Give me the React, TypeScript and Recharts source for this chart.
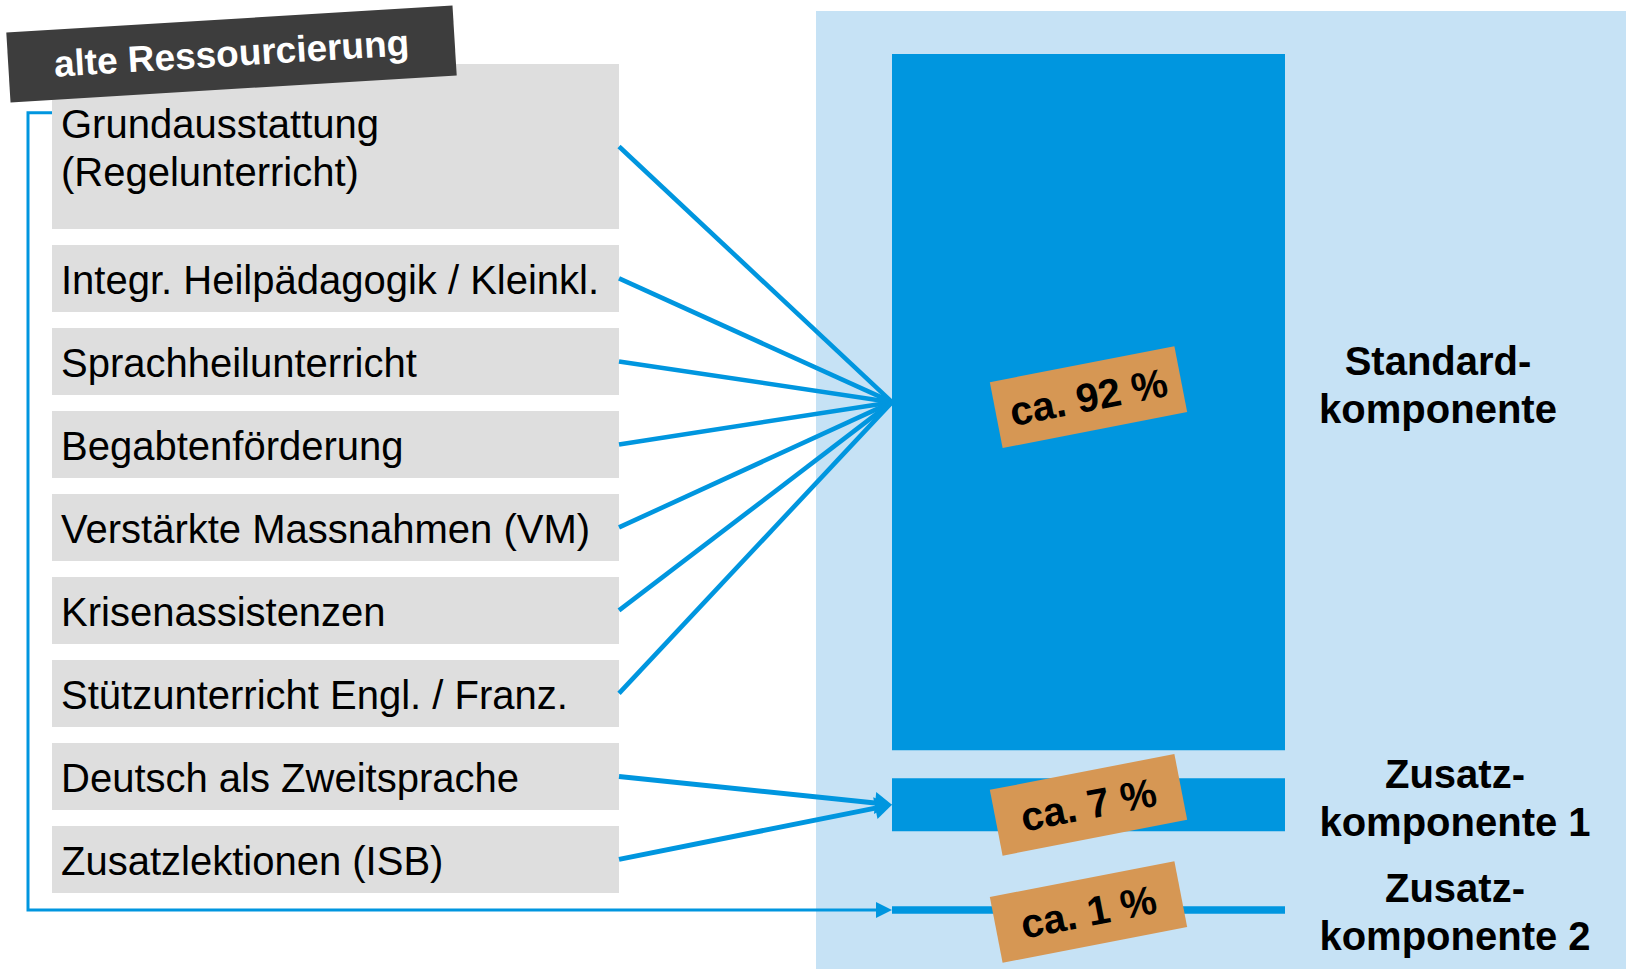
import React from 'react';
import { BarChart, Bar, XAxis, YAxis, LabelList } from 'recharts';

// ---------- data ----------
const sourceLabels: string[] = [
  'Grundausstattung\n(Regelunterricht)',
  'Integr. Heilpädagogik / Kleinkl.',
  'Sprachheilunterricht',
  'Begabtenförderung',
  'Verstärkte Massnahmen (VM)',
  'Krisenassistenzen',
  'Stützunterricht Engl. / Franz.',
  'Deutsch als Zweitsprache',
  'Zusatzlektionen (ISB)',
];
const sourceTargets: number[] = [0, 0, 0, 0, 0, 0, 0, 1, 1];
const bracketSources: number[] = [0];
const bracketTarget = 2;
const componentNames: string[] = ['Standard-\nkomponente', 'Zusatz-\nkomponente 1', 'Zusatz-\nkomponente 2'];
const componentShares: number[] = [92, 7, 1];
const shareLabels: string[] = ['ca. 92 %', 'ca. 7 %', 'ca. 1 %'];
const headerLabel = 'alte Ressourcierung';

// ---------- layout / style ----------
const W = 1626;
const H = 969;
const FONT = '"Liberation Sans", Arial, Helvetica, sans-serif';
const BLUE = '#0096DF';
const PANEL = '#C6E2F5';
const GREY = '#DEDEDE';
const DARK = '#3D3D3D';
const TAG = '#D69754';
const GAPS = [3.7, 9.9]; // spacing between stacked components (value units)
const LABEL_DX = [153, 170, 170];
const LABEL_DY = [-27, -17, -8];
const TAG_DY = [-5, 0, 2];
const BOX_X = 52;
const BOX_W = 567;
const boxTop = (i: number) => (i === 0 ? 64 : 244.7 + (i - 1) * 83);
const boxH = (i: number) => (i === 0 ? 165 : 67.4);
const boxCy = (i: number) => boxTop(i) + boxH(i) / 2;

const row = {
  name: 'Ressourcierung',
  c2: componentShares[2],
  g2: GAPS[1],
  c1: componentShares[1],
  g1: GAPS[0],
  c0: componentShares[0],
};
const total = row.c2 + row.g2 + row.c1 + row.g1 + row.c0;
const data = [row];

function arrowHead(x1: number, y1: number, x2: number, y2: number, L: number, Wd: number) {
  const dx = x2 - x1;
  const dy = y2 - y1;
  const len = Math.sqrt(dx * dx + dy * dy);
  const ux = dx / len;
  const uy = dy / len;
  const bx = x2 - ux * L;
  const by = y2 - uy * L;
  const nx = -uy;
  const ny = ux;
  return {
    base: [bx, by],
    points: `${x2},${y2} ${bx + nx * Wd},${by + ny * Wd} ${bx - nx * Wd},${by - ny * Wd}`,
  };
}

const makeContent = (ci: number) => (props: any) => {
  const vb = props.viewBox || {};
  const x = Number(vb.x ?? props.x);
  const y = Number(vb.y ?? props.y);
  const w = Number(vb.width ?? props.width);
  const h = Number(vb.height ?? props.height);
  const top = Math.min(y, y + h);
  const hh = Math.abs(h);
  const cx = x + w / 2;
  const cy = top + hh / 2;
  const lines = componentNames[ci].split('\n');

  const connectors: React.ReactNode[] = [];
  sourceTargets.forEach((t, si) => {
    if (t !== ci) return;
    const sx = BOX_X + BOX_W;
    const sy = boxCy(si);
    if (ci === 0) {
      connectors.push(
        <line key={`l${si}`} x1={sx} y1={sy} x2={x} y2={cy} stroke={BLUE} strokeWidth={4.6} />
      );
    } else {
      const a = arrowHead(sx, sy, x, cy, 17, 11);
      connectors.push(
        <g key={`l${si}`}>
          <line x1={sx} y1={sy} x2={a.base[0]} y2={a.base[1]} stroke={BLUE} strokeWidth={5} />
          <polygon points={a.points} fill={BLUE} />
        </g>
      );
    }
  });
  if (ci === bracketTarget) {
    bracketSources.forEach((si) => {
      const startY = boxTop(si) + 48.7;
      const bx = 28;
      const a = arrowHead(bx, cy, x, cy, 16, 8);
      connectors.push(
        <g key={`b${si}`}>
          <path
            d={`M ${BOX_X} ${startY} H ${bx} V ${cy} H ${a.base[0]}`}
            fill="none"
            stroke={BLUE}
            strokeWidth={3}
          />
          <polygon points={a.points} fill={BLUE} />
        </g>
      );
    });
  }

  return (
    <g>
      {connectors}
      <g transform={`translate(${cx},${cy + TAG_DY[ci]}) rotate(-11)`}>
        <rect x={-94} y={-33.5} width={188} height={67} fill={TAG} />
        <text x={0} y={14} textAnchor="middle" fontFamily={FONT} fontWeight="bold" fontSize={40.5} fill="#000">
          {shareLabels[ci]}
        </text>
      </g>
      <text
        x={x + w + LABEL_DX[ci]}
        y={cy + LABEL_DY[ci]}
        textAnchor="middle"
        fontFamily={FONT}
        fontWeight="bold"
        fontSize={40}
        fill="#000"
      >
        {lines.map((ln, k) => (
          <tspan key={k} x={x + w + LABEL_DX[ci]} y={cy + LABEL_DY[ci] + k * 48}>
            {ln}
          </tspan>
        ))}
      </text>
    </g>
  );
};

export default function App() {
  return (
    <div style={{ position: 'absolute', left: 0, top: 0, width: W, height: H, background: '#fff', overflow: 'hidden' }}>
      <div style={{ position: 'absolute', left: 816, top: 11, width: W - 816, height: H - 11, background: PANEL }} />
      {sourceLabels.map((lbl, i) => (
        <div
          key={i}
          style={{
            position: 'absolute',
            left: BOX_X,
            top: boxTop(i),
            width: BOX_W,
            height: boxH(i),
            background: GREY,
            display: 'flex',
            alignItems: 'center',
            paddingLeft: 9,
            paddingTop: 4,
            boxSizing: 'border-box',
            fontFamily: FONT,
            fontSize: 40,
            lineHeight: '47.5px',
            color: '#000',
            whiteSpace: 'pre-line',
          }}
        >
          {lbl}
        </div>
      ))}
      <div style={{ position: 'absolute', left: 0, top: 0 }}>
        <BarChart
          width={W}
          height={H}
          data={data}
          margin={{ top: 54, right: W - 1285, bottom: H - 913.8, left: 892 }}
          barCategoryGap={0}
        >
          <XAxis dataKey="name" hide />
          <YAxis type="number" domain={[0, total]} hide />
          <Bar dataKey="c2" stackId="r" fill={BLUE} isAnimationActive={false}>
            <LabelList dataKey="c2" content={makeContent(2)} />
          </Bar>
          <Bar dataKey="g2" stackId="r" fill="transparent" isAnimationActive={false} />
          <Bar dataKey="c1" stackId="r" fill={BLUE} isAnimationActive={false}>
            <LabelList dataKey="c1" content={makeContent(1)} />
          </Bar>
          <Bar dataKey="g1" stackId="r" fill="transparent" isAnimationActive={false} />
          <Bar dataKey="c0" stackId="r" fill={BLUE} isAnimationActive={false}>
            <LabelList dataKey="c0" content={makeContent(0)} />
          </Bar>
        </BarChart>
      </div>
      <div
        style={{
          position: 'absolute',
          left: 231.5 - 223.5,
          top: 54 - 35,
          width: 447,
          height: 70,
          background: DARK,
          transform: 'rotate(-3.46deg)',
          display: 'flex',
          alignItems: 'center',
          justifyContent: 'center',
          color: '#fff',
          fontFamily: FONT,
          fontWeight: 'bold',
          fontSize: 37,
        }}
      >
        {headerLabel}
      </div>
    </div>
  );
}
